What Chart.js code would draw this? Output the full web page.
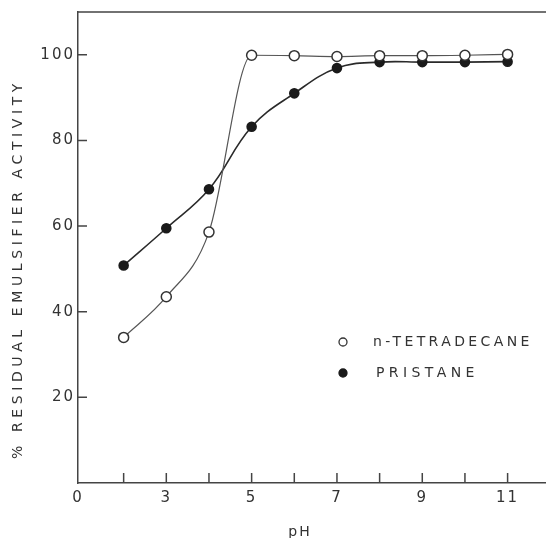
<!DOCTYPE html>
<html>
<head>
<meta charset="utf-8">
<script src="https://cdn.jsdelivr.net/npm/chart.js@4.4.1/dist/chart.umd.min.js"></script>
<style>
  html, body { margin: 0; padding: 0; background: #fff; }
  #wrap { width: 546px; height: 538px; position: relative; }
</style>
</head>
<body>
<div id="wrap"><canvas id="phChart"></canvas></div>
<script>
// pH at which residual activity was measured
const phValues = [2, 3, 4, 5, 6, 7, 8, 9, 10, 11];
// % residual emulsifier activity
const tetradecane = [34, 43.5, 58.6, 99.9, 99.8, 99.6, 99.8, 99.8, 99.9, 100.1];
const pristane = [50.8, 59.5, 68.6, 83.2, 91.0, 96.9, 98.3, 98.3, 98.3, 98.4];
const seriesNames = ['n-TETRADECANE', 'PRISTANE'];

// axis ticks and labels
const xTickValues = [2, 3, 4, 5, 6, 7, 8, 9, 10, 11];
const xTickLabels = ['', '3', '', '5', '', '7', '', '9', '', '11'];
const xOriginLabel = '0';
const yTickValues = [20, 40, 60, 80, 100];
const yTitle = '% RESIDUAL EMULSIFIER ACTIVITY';
const xTitle = 'pH';

const X_MIN = 0.93, X_MAX = 11.9;
const ink = '#333';
const font = '"DejaVu Sans", sans-serif';

const toPoints = vals => phValues.map((p, i) => ({ x: p, y: vals[i] }));

// frame top, inward tick marks, axis titles and the in-plot legend
const extras = {
    id: 'extras',
    beforeDraw(chart) {
        chart.ctx.letterSpacing = '2px';
    },
    afterDraw(chart) {
        const { ctx, chartArea: a, scales: { x, y } } = chart;
        ctx.save();
        ctx.letterSpacing = '0px';
        ctx.strokeStyle = '#444';
        ctx.lineWidth = 1.5;
        ctx.beginPath();
        ctx.moveTo(a.left, a.top);
        ctx.lineTo(a.right, a.top);
        xTickValues.forEach(v => {
            const px = x.getPixelForValue(v);
            ctx.moveTo(px, a.bottom);
            ctx.lineTo(px, a.bottom - 10);
        });
        yTickValues.forEach(v => {
            const py = y.getPixelForValue(v);
            ctx.moveTo(a.left, py);
            ctx.lineTo(a.left + 9, py);
        });
        ctx.stroke();

        ctx.fillStyle = ink;
        ctx.font = '14px ' + font;
        ctx.textBaseline = 'middle';

        // y title
        ctx.save();
        ctx.translate(18, 269);
        ctx.rotate(-Math.PI / 2);
        ctx.letterSpacing = '4.6px';
        ctx.textAlign = 'center';
        ctx.fillText(yTitle, 0, 0);
        ctx.restore();

        // x title
        ctx.letterSpacing = '2px';
        ctx.textAlign = 'center';
        ctx.fillText(xTitle, 300, 532);

        // legend
        ctx.textAlign = 'left';
        const rows = [[343, 342, 373, 3.4], [343, 373, 376, 4.4]];
        chart.data.datasets.forEach((ds, i) => {
            const [mx, my, tx, sp] = rows[i];
            ctx.beginPath();
            ctx.arc(mx, my, 4, 0, Math.PI * 2);
            ctx.fillStyle = ds.pointBackgroundColor;
            ctx.fill();
            ctx.lineWidth = 1.3;
            ctx.strokeStyle = ds.pointBorderColor;
            ctx.stroke();
            ctx.fillStyle = ink;
            ctx.letterSpacing = sp + 'px';
            ctx.fillText(ds.label, tx, my);
        });
        ctx.restore();
    }
};

new Chart(document.getElementById('phChart'), {
    type: 'line',
    data: {
        datasets: [{
            label: seriesNames[0],
            data: toPoints(tetradecane),
            borderColor: '#555',
            borderWidth: 1.2,
            pointBackgroundColor: '#fff',
            pointBorderColor: '#333',
            pointBorderWidth: 1.5,
            pointRadius: 5,
            cubicInterpolationMode: 'monotone',
            order: 1
        }, {
            label: seriesNames[1],
            data: toPoints(pristane),
            borderColor: '#2a2a2a',
            borderWidth: 1.6,
            pointBackgroundColor: '#1a1a1a',
            pointBorderColor: '#1a1a1a',
            pointRadius: 4.5,
            tension: 0.4,
            order: 2
        }]
    },
    options: {
        responsive: true,
        maintainAspectRatio: false,
        animation: false,
        layout: { autoPadding: false, padding: { top: 12, left: 0, right: 0, bottom: 0 } },
        plugins: { legend: { display: false }, tooltip: { enabled: false } },
        scales: {
            x: {
                type: 'linear',
                min: X_MIN,
                max: X_MAX,
                afterBuildTicks: s => { s.ticks = [X_MIN, ...xTickValues].map(v => ({ value: v })); },
                afterFit: s => { s.height = 55; },
                grid: { display: false, drawTicks: false },
                border: { color: '#444', width: 1.5 },
                ticks: {
                    autoSkip: false,
                    maxRotation: 0,
                    padding: 6,
                    color: ink,
                    font: { family: font, size: 15 },
                    callback: v => v === X_MIN ? xOriginLabel : xTickLabels[xTickValues.indexOf(v)]
                }
            },
            y: {
                min: 0,
                max: 110,
                afterBuildTicks: s => { s.ticks = yTickValues.map(v => ({ value: v })); },
                afterFit: s => { s.width = 78; },
                grid: { display: false, drawTicks: false },
                border: { color: '#444', width: 1.5 },
                ticks: {
                    padding: 3,
                    color: ink,
                    font: { family: font, size: 15 }
                }
            }
        }
    },
    plugins: [extras]
});
</script>
</body>
</html>
